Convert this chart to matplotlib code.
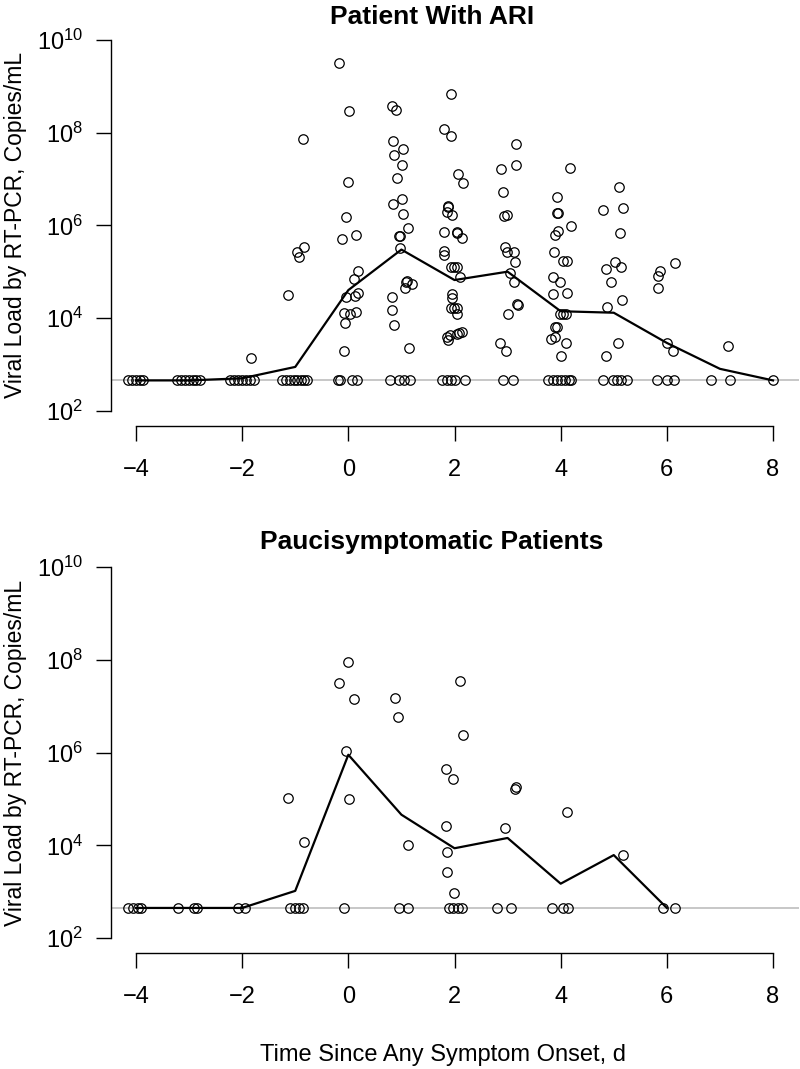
import matplotlib
matplotlib.use("Agg")
import matplotlib.pyplot as plt
from matplotlib.ticker import FixedLocator, NullLocator, FixedFormatter
import numpy as np

plt.rcParams['font.family'] = ['Liberation Sans', 'DejaVu Sans']
plt.rcParams['mathtext.fontset'] = 'custom'
plt.rcParams['mathtext.rm'] = 'Liberation Sans'
plt.rcParams['mathtext.it'] = 'Liberation Sans'

# ---------------- data ----------------
LOD = 450  # value plotted for undetected samples

# Panel 1: Patient With ARI
ari_pos_x = [-1.83, -1.14, -0.97, -0.92, -0.83, -0.85,
             -0.18, 0.01, -0.01, -0.05, -0.11, 0.15, 0.19, 0.11, -0.05, 0.13, 0.19, -0.09, 0.04, 0.15, -0.07, -0.09,
             0.82, 0.90, 0.84, 1.03, 0.86, 1.01, 0.92, 1.01, 0.84, 1.03, 1.12, 0.95, 0.97, 0.97, 1.10, 1.08, 1.20, 1.07, 0.82, 0.82, 0.86, 1.14,
             1.93, 1.80, 1.93, 2.06, 2.16, 1.88, 1.88, 1.86, 1.95, 1.80, 2.05, 2.05, 2.14, 1.80, 1.80, 1.93, 1.99, 2.05, 2.10, 1.95, 1.95, 1.93, 1.99, 2.05, 2.05, 1.86, 1.88, 1.91, 2.05, 2.08, 2.14,
             2.87, 3.16, 3.16, 2.91, 2.93, 2.99, 2.95, 2.99, 3.12, 3.14, 3.04, 3.12, 3.18, 3.19, 3.01, 2.85, 2.97,
             4.17, 3.93, 3.93, 3.95, 4.19, 3.89, 3.95, 3.87, 4.04, 4.12, 3.85, 3.98, 3.85, 4.12, 3.98, 4.04, 4.10, 3.89, 3.93, 3.89, 3.82, 4.10, 4.00,
             4.79, 5.10, 5.17, 5.12, 5.02, 5.13, 4.85, 4.95, 5.15, 4.87, 5.08, 4.85,
             5.87, 5.83, 5.83, 6.15, 6.00, 6.11,
             7.15]
ari_pos_y = [1.4e3, 3.2e4, 2.7e5, 2.1e5, 3.4e5, 7.2e7,
             3.2e9, 2.95e8, 8.7e6, 1.5e6, 5.1e5, 6.2e5, 1.05e5, 6.9e4, 2.9e4, 3.0e4, 3.5e4, 1.3e4, 1.2e4, 1.35e4, 7.9e3, 1.9e3,
             3.8e8, 3.1e8, 6.6e7, 4.5e7, 3.3e7, 2.0e7, 1.05e7, 3.7e6, 2.9e6, 1.8e6, 8.9e5, 5.9e5, 5.9e5, 3.2e5, 6.3e4, 6.0e4, 5.5e4, 4.5e4, 2.9e4, 1.5e4, 7.1e3, 2.2e3,
             6.8e8, 1.2e8, 8.5e7, 1.3e7, 8.1e6, 2.6e6, 2.5e6, 1.9e6, 1.65e6, 7.2e5, 7.1e5, 6.8e5, 5.4e5, 2.8e5, 2.3e5, 1.26e5, 1.26e5, 1.26e5, 7.8e4, 3.3e4, 2.7e4, 1.66e4, 1.66e4, 1.66e4, 1.23e4, 3.9e3, 3.4e3, 4.4e3, 4.6e3, 4.8e3, 5.0e3,
             1.66e7, 2.0e7, 5.8e7, 5.2e6, 1.6e6, 1.66e6, 3.4e5, 2.6e5, 2.7e5, 1.6e5, 9.3e4, 6.0e4, 2.0e4, 1.9e4, 1.2e4, 2.9e3, 1.9e3,
             1.74e7, 4.1e6, 1.86e6, 1.86e6, 9.8e5, 6.3e5, 7.6e5, 2.6e5, 1.66e5, 1.7e5, 7.8e4, 6.0e4, 3.3e4, 3.5e4, 1.23e4, 1.23e4, 1.23e4, 6.5e3, 6.5e3, 3.9e3, 3.5e3, 2.9e3, 1.5e3,
             2.1e6, 6.8e6, 2.4e6, 6.9e5, 1.6e5, 1.26e5, 1.15e5, 6.0e4, 2.5e4, 1.7e4, 2.9e3, 1.5e3,
             1.05e5, 8.1e4, 4.5e4, 1.55e5, 2.9e3, 1.9e3,
             2.5e3]
ari_neg_x = [-4.15, -4.08, -4.00, -3.93, -3.87,
             -3.23, -3.15, -3.07, -3.00, -2.93, -2.87, -2.80,
             -2.23, -2.15, -2.07, -2.00, -1.93, -1.85, -1.78,
             -1.25, -1.18, -1.10, -1.03, -0.97, -0.90, -0.83, -0.77,
             -0.20, -0.15, 0.07, 0.17,
             0.78, 0.95, 1.05, 1.17,
             1.76, 1.85, 1.93, 2.00, 2.20,
             2.91, 3.10,
             3.76, 3.85, 3.93, 4.00, 4.08, 4.15, 4.20,
             4.80, 4.98, 5.06, 5.13, 5.25,
             5.81, 6.00, 6.13,
             6.83, 7.19, 8.00]
ari_days = [-4, -3, -2, -1, 0, 1, 2, 3, 4, 5, 6, 7, 8]
ari_median = [450, 450, 500, 880, 4.0e4, 3.0e5, 6.6e4, 1.0e5, 1.4e4, 1.3e4, 2.9e3, 800, 450]

# Panel 2: Paucisymptomatic Patients
pauci_pos_x = [-1.14, -0.84, -0.18, 0.00, 0.10, -0.04, 0.01, 0.88, 0.93, 1.12,
               1.84, 1.97, 1.84, 1.86, 1.86, 1.99, 2.10, 2.16, 2.95, 3.16, 3.14, 4.12, 5.17]
pauci_pos_y = [1.05e5, 1.2e4, 3.2e7, 8.9e7, 1.45e7, 1.07e6, 1.0e5, 1.5e7, 5.9e6, 1.0e4,
               4.5e5, 2.7e5, 2.6e4, 7.2e3, 2.7e3, 930, 3.5e7, 2.4e6, 2.4e4, 1.8e5, 1.66e5, 5.2e4, 6.2e3]
pauci_neg_x = [-4.15, -4.05, -3.97, -3.90, -3.20, -2.90, -2.85, -2.08, -1.95,
               -1.10, -1.00, -0.92, -0.85, -0.09, 0.95, 1.12, 1.90, 1.98, 2.06, 2.14,
               2.80, 3.06, 3.84, 4.05, 4.13, 5.93, 6.15]
pauci_days = [-4, -3, -2, -1, 0, 1, 2, 3, 4, 5, 6]
pauci_median = [450, 450, 450, 1050, 9.0e5, 4.6e4, 8.7e3, 1.45e4, 1.5e3, 6.2e3, 450]

titles = ["Patient With ARI", "Paucisymptomatic Patients"]
ylabel = "Viral Load by RT-PCR, Copies/mL"
xlabel = "Time Since Any Symptom Onset, d"
xticks = [-4, -2, 0, 2, 4, 6, 8]
yticks = [1e2, 1e4, 1e6, 1e8, 1e10]
ytick_labels = [r"$10^{2}$", r"$10^{4}$", r"$10^{6}$", r"$10^{8}$", r"$10^{10}$"]

# ---------------- figure ----------------
W, H = 800, 1069
fig = plt.figure(figsize=(W / 100, H / 100), dpi=100)
fig.patch.set_facecolor('white')

def px_axes(x0, y0, x1, y1):
    return fig.add_axes([x0 / W, 1 - y1 / H, (x1 - x0) / W, (y1 - y0) / H])

panels = [
    (px_axes(110.5, 25.2, 798.5, 425.5), ari_pos_x, ari_pos_y, ari_neg_x, ari_days, ari_median, titles[0], 17),
    (px_axes(110.5, 552.2, 798.5, 953.1), pauci_pos_x, pauci_pos_y, pauci_neg_x, pauci_days, pauci_median, titles[1], 542),
]

for ax, px, py, nx, days, med, title, ty in panels:
    ax.set_yscale('log')
    ax.set_xlim(-4.48, 8.48)
    ax.set_ylim(10 ** 1.68, 10 ** 10.32)
    ax.axhline(LOD, color='#bdbdbd', lw=1.2, zorder=1)
    ax.plot(px, py, linestyle='none', marker='o', ms=6.8, mfc='none', mec='black', mew=0.9, zorder=3)
    ax.plot(nx, [LOD] * len(nx), linestyle='none', marker='o', ms=6.8, mfc='none', mec='black', mew=0.9, zorder=3)
    ax.plot(days, med, color='black', lw=1.6, zorder=2)

    for s in ['top', 'right']:
        ax.spines[s].set_visible(False)
    ax.spines['left'].set_bounds(1e2, 1e10)
    ax.spines['bottom'].set_bounds(-4, 8)
    ax.spines['left'].set_linewidth(1.0)
    ax.spines['bottom'].set_linewidth(1.0)
    ax.set_facecolor('none')

    ax.xaxis.set_major_locator(FixedLocator(xticks))
    ax.yaxis.set_major_locator(FixedLocator(yticks))
    ax.yaxis.set_major_formatter(FixedFormatter(ytick_labels))
    ax.yaxis.set_minor_locator(NullLocator())
    ax.tick_params(axis='both', which='major', direction='out', length=10.8, width=1.0,
                   labelsize=17, colors='black')
    ax.tick_params(axis='y', pad=9)
    ax.tick_params(axis='x', pad=13)
    ax.set_ylabel(ylabel, fontsize=16.5, labelpad=7)
    fig.text(432 / W, 1 - ty / H, title, ha='center', va='center', fontsize=19, fontweight='bold')

fig.text(443 / W, 1 - 1055 / H, xlabel, ha='center', va='center', fontsize=17)

fig.savefig('out.png', dpi=100, facecolor='white')
